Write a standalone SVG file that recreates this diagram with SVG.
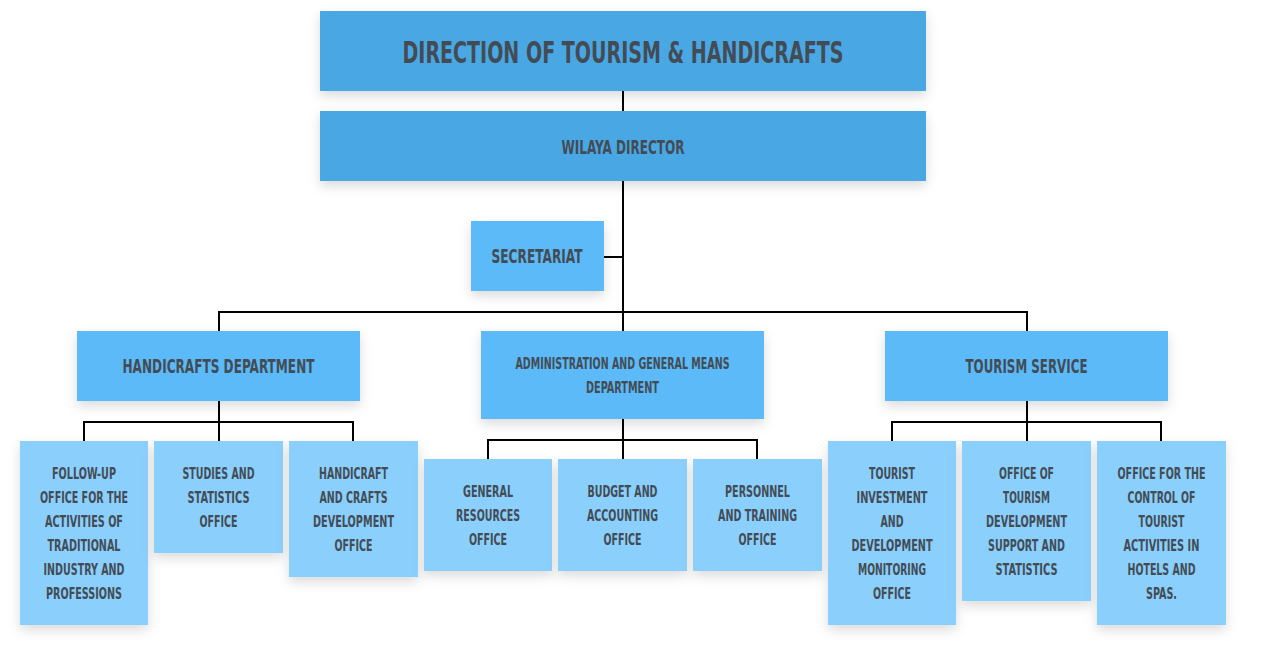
<svg xmlns="http://www.w3.org/2000/svg" width="1268" height="647" viewBox="0 0 1268 647">
<defs>
<filter id="sh" x="-20%" y="-20%" width="140%" height="160%">
<feDropShadow dx="0" dy="5" stdDeviation="6" flood-color="#000" flood-opacity="0.14"/>
</filter>
<style>
.t{font-family:"DejaVu Sans Condensed","DejaVu Sans",sans-serif;font-stretch:condensed;font-weight:bold;fill:#434c55;text-anchor:middle}
.b1{fill:#4aa8e4;filter:url(#sh)}
.b2{fill:#5bbaf8;filter:url(#sh)}
.b3{fill:#8bd0fd;filter:url(#sh)}
.c{fill:none;stroke:#000;stroke-width:2}
.s31{font-size:31px}.s20{font-size:20px}.s15{font-size:15px}
</style>
</defs>
<rect width="1268" height="647" fill="#fff"/>
<g id="connectors">
<path class="c" d="M623 91V111M623 181V331M604 257H623M219 331V312H1027V331"/>
<path class="c" d="M219 401V441M84 441V422H353V441"/>
<path class="c" d="M623 419V459M488 459V440H757V459"/>
<path class="c" d="M1027 401V441M892 441V422H1161V441"/>
</g>
<g id="n-title"><rect class="b1" x="320" y="11" width="606" height="80"/><text class="t s31" x="623" y="63" textLength="441" lengthAdjust="spacingAndGlyphs">DIRECTION OF TOURISM &amp; HANDICRAFTS</text></g>
<g id="n-director"><rect class="b1" x="320" y="111" width="606" height="70"/><text class="t s20" x="623" y="154" textLength="123" lengthAdjust="spacingAndGlyphs">WILAYA DIRECTOR</text></g>
<g id="n-secretariat"><rect class="b2" x="471" y="221" width="133" height="70"/><text class="t s20" x="537" y="263" textLength="91" lengthAdjust="spacingAndGlyphs">SECRETARIAT</text></g>
<g id="n-handicrafts"><rect class="b2" x="77" y="331" width="283" height="70"/><text class="t s20" x="218.5" y="373" textLength="192" lengthAdjust="spacingAndGlyphs">HANDICRAFTS DEPARTMENT</text></g>
<g id="n-admin"><rect class="b2" x="481" y="331" width="283" height="88"/><text class="t s15" x="622.5" y="369" textLength="214" lengthAdjust="spacingAndGlyphs">ADMINISTRATION AND GENERAL MEANS</text><text class="t s15" x="622.5" y="393" textLength="73" lengthAdjust="spacingAndGlyphs">DEPARTMENT</text></g>
<g id="n-tourism"><rect class="b2" x="885" y="331" width="283" height="70"/><text class="t s20" x="1026.5" y="373" textLength="122" lengthAdjust="spacingAndGlyphs">TOURISM SERVICE</text></g>
<g id="n-followup"><rect class="b3" x="20" y="441" width="128" height="184"/>
<text class="t s15" x="84" y="479" textLength="64" lengthAdjust="spacingAndGlyphs">FOLLOW-UP</text>
<text class="t s15" x="84" y="503" textLength="88" lengthAdjust="spacingAndGlyphs">OFFICE FOR THE</text>
<text class="t s15" x="84" y="527" textLength="78" lengthAdjust="spacingAndGlyphs">ACTIVITIES OF</text>
<text class="t s15" x="84" y="551" textLength="73" lengthAdjust="spacingAndGlyphs">TRADITIONAL</text>
<text class="t s15" x="84" y="575" textLength="81" lengthAdjust="spacingAndGlyphs">INDUSTRY AND</text>
<text class="t s15" x="84" y="599" textLength="76" lengthAdjust="spacingAndGlyphs">PROFESSIONS</text></g>
<g id="n-studies"><rect class="b3" x="154" y="441" width="129" height="112"/>
<text class="t s15" x="218.5" y="479" textLength="72" lengthAdjust="spacingAndGlyphs">STUDIES AND</text>
<text class="t s15" x="218.5" y="503" textLength="62" lengthAdjust="spacingAndGlyphs">STATISTICS</text>
<text class="t s15" x="218.5" y="527" textLength="38" lengthAdjust="spacingAndGlyphs">OFFICE</text></g>
<g id="n-handicraft-dev"><rect class="b3" x="289" y="441" width="129" height="136"/>
<text class="t s15" x="353.5" y="479" textLength="69" lengthAdjust="spacingAndGlyphs">HANDICRAFT</text>
<text class="t s15" x="353.5" y="503" textLength="68" lengthAdjust="spacingAndGlyphs">AND CRAFTS</text>
<text class="t s15" x="353.5" y="527" textLength="81" lengthAdjust="spacingAndGlyphs">DEVELOPMENT</text>
<text class="t s15" x="353.5" y="551" textLength="38" lengthAdjust="spacingAndGlyphs">OFFICE</text></g>
<g id="n-general"><rect class="b3" x="424" y="459" width="128" height="112"/>
<text class="t s15" x="488" y="497" textLength="50" lengthAdjust="spacingAndGlyphs">GENERAL</text>
<text class="t s15" x="488" y="521" textLength="64" lengthAdjust="spacingAndGlyphs">RESOURCES</text>
<text class="t s15" x="488" y="545" textLength="38" lengthAdjust="spacingAndGlyphs">OFFICE</text></g>
<g id="n-budget"><rect class="b3" x="558" y="459" width="129" height="112"/>
<text class="t s15" x="622.5" y="497" textLength="70" lengthAdjust="spacingAndGlyphs">BUDGET AND</text>
<text class="t s15" x="622.5" y="521" textLength="71" lengthAdjust="spacingAndGlyphs">ACCOUNTING</text>
<text class="t s15" x="622.5" y="545" textLength="38" lengthAdjust="spacingAndGlyphs">OFFICE</text></g>
<g id="n-personnel"><rect class="b3" x="693" y="459" width="129" height="112"/>
<text class="t s15" x="757.5" y="497" textLength="65" lengthAdjust="spacingAndGlyphs">PERSONNEL</text>
<text class="t s15" x="757.5" y="521" textLength="79" lengthAdjust="spacingAndGlyphs">AND TRAINING</text>
<text class="t s15" x="757.5" y="545" textLength="38" lengthAdjust="spacingAndGlyphs">OFFICE</text></g>
<g id="n-investment"><rect class="b3" x="828" y="441" width="128" height="184"/>
<text class="t s15" x="892" y="479" textLength="46" lengthAdjust="spacingAndGlyphs">TOURIST</text>
<text class="t s15" x="892" y="503" textLength="71" lengthAdjust="spacingAndGlyphs">INVESTMENT</text>
<text class="t s15" x="892" y="527" textLength="23" lengthAdjust="spacingAndGlyphs">AND</text>
<text class="t s15" x="892" y="551" textLength="81" lengthAdjust="spacingAndGlyphs">DEVELOPMENT</text>
<text class="t s15" x="892" y="575" textLength="68" lengthAdjust="spacingAndGlyphs">MONITORING</text>
<text class="t s15" x="892" y="599" textLength="38" lengthAdjust="spacingAndGlyphs">OFFICE</text></g>
<g id="n-support"><rect class="b3" x="962" y="441" width="129" height="160"/>
<text class="t s15" x="1026.5" y="479" textLength="55" lengthAdjust="spacingAndGlyphs">OFFICE OF</text>
<text class="t s15" x="1026.5" y="503" textLength="47" lengthAdjust="spacingAndGlyphs">TOURISM</text>
<text class="t s15" x="1026.5" y="527" textLength="81" lengthAdjust="spacingAndGlyphs">DEVELOPMENT</text>
<text class="t s15" x="1026.5" y="551" textLength="77" lengthAdjust="spacingAndGlyphs">SUPPORT AND</text>
<text class="t s15" x="1026.5" y="575" textLength="62" lengthAdjust="spacingAndGlyphs">STATISTICS</text></g>
<g id="n-control"><rect class="b3" x="1097" y="441" width="129" height="184"/>
<text class="t s15" x="1161.5" y="479" textLength="88" lengthAdjust="spacingAndGlyphs">OFFICE FOR THE</text>
<text class="t s15" x="1161.5" y="503" textLength="68" lengthAdjust="spacingAndGlyphs">CONTROL OF</text>
<text class="t s15" x="1161.5" y="527" textLength="46" lengthAdjust="spacingAndGlyphs">TOURIST</text>
<text class="t s15" x="1161.5" y="551" textLength="76" lengthAdjust="spacingAndGlyphs">ACTIVITIES IN</text>
<text class="t s15" x="1161.5" y="575" textLength="68" lengthAdjust="spacingAndGlyphs">HOTELS AND</text>
<text class="t s15" x="1161.5" y="599" textLength="31" lengthAdjust="spacingAndGlyphs">SPAS.</text></g>
</svg>
